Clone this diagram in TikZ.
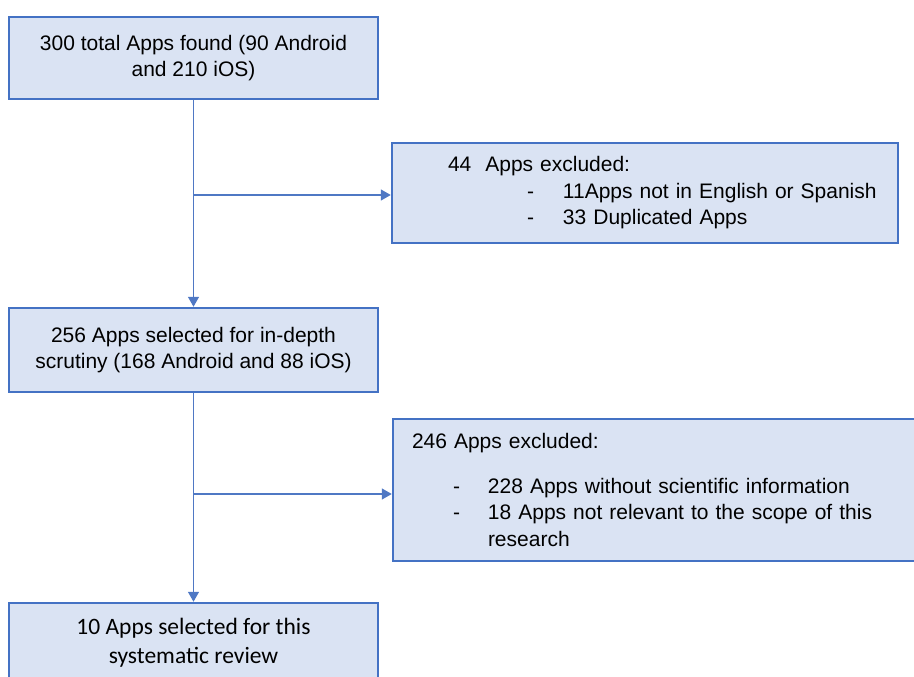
\documentclass[tikz,border=0pt]{standalone}
\usepackage{fontspec}
\setmainfont{Liberation Sans}
\newfontfamily\calibri{Carlito}
\usetikzlibrary{arrows.meta,calc}
\definecolor{azulborda}{HTML}{4472C4}
\definecolor{azulfundo}{HTML}{DAE3F3}
\definecolor{azullinha}{HTML}{4F78C4}

\begin{document}
\begin{tikzpicture}[x=1pt, y=-1pt,
        caixa/.style={draw=azulborda, fill=azulfundo, line width=2.5pt, inner sep=0pt,
            font=\fontsize{21}{26.5}\selectfont},
        seta/.style={draw=azullinha, line width=1.4pt, -{Triangle[length=10pt,width=11pt]}}]
    % fixar o tamanho da figura
    \useasboundingbox (0,0) rectangle (914,677);
    % desenhar as caixas da coluna esquerda
    \node[caixa, minimum width=369pt, minimum height=82pt, align=center] (b1) at (193.5,58)
        {300 total Apps found (90 Android\\and 210 iOS)};
    \node[caixa, minimum width=369pt, minimum height=84pt, align=center] (b3) at (193.5,350)
        {256 Apps selected for in-depth\\scrutiny (168 Android and 88 iOS)};
    \node[caixa, minimum width=369pt, minimum height=80pt, align=center,
        font=\calibri\fontsize{23.5}{29}\selectfont] (b5) at (193.5,643)
        {10 Apps selected for this\\systematic review};
    % desenhar as caixas de exclusao
    \node[caixa, text width=506pt, minimum height=100pt, align=left] (b2) at (645,193)
        {\hspace*{56pt}44\hspace{14pt}Apps excluded:\\
         \hspace*{135pt}\makebox[36pt][l]{-}11Apps not in English or Spanish\\
         \hspace*{135pt}\makebox[36pt][l]{-}33 Duplicated Apps};
    \node[caixa, text width=527pt, minimum height=142pt, align=left] (b4) at (656.5,490)
        {\hspace*{19pt}246 Apps excluded:\\[18pt]
         \hspace*{60pt}\makebox[35pt][l]{-}228 Apps without scientific information\\
         \hspace*{60pt}\makebox[35pt][l]{-}18 Apps not relevant to the scope of this\\
         \hspace*{95pt}research};
    % pontos onde saem os ramos
    \coordinate (r1) at ($(b1.south |- b2.west)+(0,2)$);
    \coordinate (r2) at ($(b3.south |- b4.west)+(0,4)$);
    % desenhar as setas
    \draw[seta] (b1.south) -- (b3.north);
    \draw[seta] (r1) -- (r1 -| b2.west);
    \draw[seta] (b3.south) -- (b5.north);
    \draw[seta] (r2) -- (r2 -| b4.west);
\end{tikzpicture}
\end{document}
